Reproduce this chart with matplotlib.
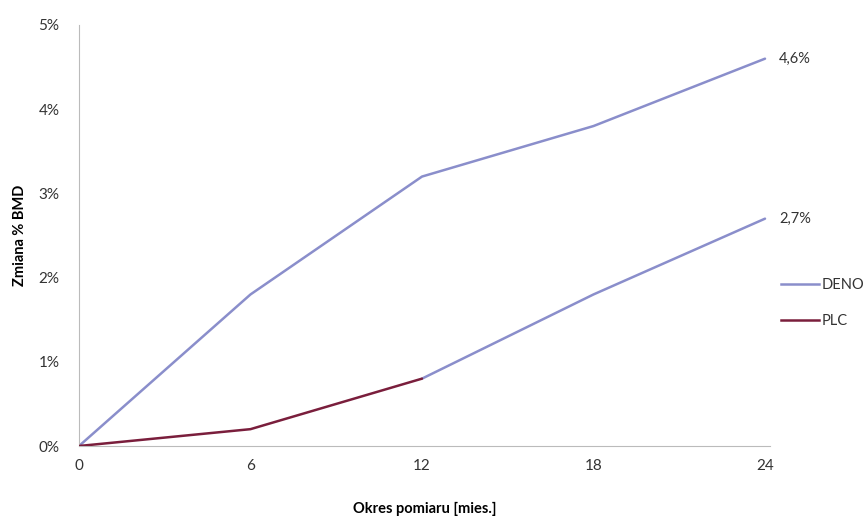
import matplotlib
matplotlib.use("Agg")
import matplotlib.pyplot as plt
from matplotlib.lines import Line2D
from matplotlib.ticker import FuncFormatter

months = [0, 6, 12, 18, 24]
deno = [0.0, 1.8, 3.2, 3.8, 4.6]
plc = [0.0, 0.2, 0.8, 1.8, 2.7]
end_labels = ["4,6%", "2,7%"]
yticks = [0, 1, 2, 3, 4, 5]

plt.rcParams['font.family'] = ['Lato', 'DejaVu Sans']

c_deno = '#8A8ECB'
c_plc = '#7A1E3C'

fig = plt.figure(figsize=(8.65, 5.18), dpi=100)
ax = fig.add_axes([79/865, 1-446/518, (770-79)/865, (446-25)/518])

ax.plot(months, deno, color=c_deno, lw=1.8, solid_capstyle='round')
# PLC: first part in maroon, later part drawn in the light colour as in the original
ax.plot(months[:3], plc[:3], color=c_plc, lw=1.8, solid_capstyle='round', zorder=3)
ax.plot(months[2:], plc[2:], color=c_deno, lw=1.8, solid_capstyle='round')

ax.set_xlim(0, 24 * (770-79) / (765-79))
ax.set_ylim(0, 5)
ax.set_xticks(months)
ax.set_yticks(yticks)
ax.yaxis.set_major_formatter(FuncFormatter(lambda v, p: f"{int(v)}%"))
ax.tick_params(axis='both', length=0, labelsize=11, colors='#333333')
ax.tick_params(axis='x', pad=9)
ax.tick_params(axis='y', pad=14)

for s in ['top', 'right']:
    ax.spines[s].set_visible(False)
ax.spines['left'].set_color('#BBBBBB')
ax.spines['bottom'].set_color('#BBBBBB')

ax.set_xlabel('Okres pomiaru [mies.]', fontsize=10.5, fontweight='bold', labelpad=21)
ax.set_ylabel('Zmiana % BMD', fontsize=10.5, fontweight='bold', labelpad=8)

ax.annotate(end_labels[0], (months[-1], deno[-1]), xytext=(10, 0), textcoords='offset points',
            va='center', ha='left', fontsize=10.5, color='#333333', annotation_clip=False)
ax.annotate(end_labels[1], (months[-1], plc[-1]), xytext=(10, 0), textcoords='offset points',
            va='center', ha='left', fontsize=10.5, color='#333333', annotation_clip=False)

handles = [Line2D([], [], color=c_deno, lw=1.8), Line2D([], [], color=c_plc, lw=1.8)]
leg = fig.legend(handles, ['DENO', 'PLC'], loc='center left', bbox_to_anchor=(768/865, 1-303/518),
                 frameon=False, fontsize=10.5, handlelength=2.6, handletextpad=0.15,
                 labelspacing=1.5)
for t in leg.get_texts():
    t.set_color('#333333')

fig.savefig('out.png', dpi=100)
